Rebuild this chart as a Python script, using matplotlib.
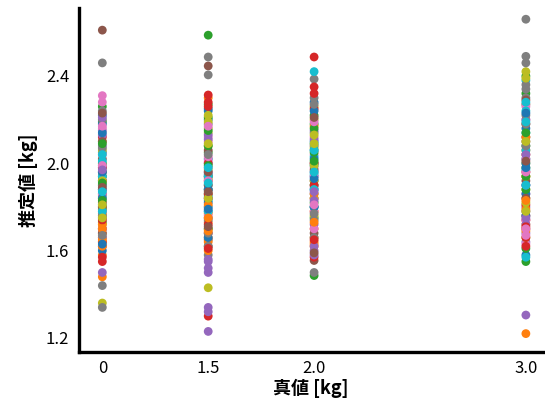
import matplotlib.pyplot as plt

plt.rcParams['font.family'] = ['Noto Sans CJK JP', 'DejaVu Sans']

# true value positions and their tick labels
x_pos = [1.0, 1.5, 2.0, 3.0]
x_labels = ['0', '1.5', '2.0', '3.0']

# estimated values for each true value (colour follows tab10 by order)
est_0 = [2.22, 1.66, 2.26, 1.55, 2.15, 2.61, 2.31, 2.46, 2.10, 1.92,
         2.05, 1.48, 2.19, 1.62, 1.50, 1.75, 2.28, 1.44, 1.36, 1.85,
         1.70, 1.64, 1.88, 2.12, 2.08, 1.96, 1.80, 1.34, 1.76, 1.98,
         1.90, 1.68, 1.73, 1.82, 1.66, 2.02, 1.94, 2.24, 1.84, 1.88,
         2.18, 1.58, 1.79, 1.70, 1.99, 1.86, 2.04, 2.20, 1.72, 1.81,
         1.60, 1.77, 2.00, 1.92, 2.13, 1.68, 1.86, 1.96, 2.06, 2.01,
         1.84, 1.62, 1.94, 1.64, 1.78, 2.10, 1.70, 1.90, 1.80, 1.94,
         1.96, 1.72, 1.83, 1.98, 1.88, 1.80, 2.16, 1.76, 1.92, 1.78,
         2.14, 1.65, 1.91, 1.74, 2.21, 1.89, 1.99, 2.07, 1.81, 1.87,
         1.63, 1.70, 2.09, 1.57, 1.97, 2.23, 2.17, 1.67, 1.75, 2.04]
est_15 = [2.20, 2.30, 2.587, 2.313, 1.34, 2.446, 2.12, 2.487, 1.43, 2.00,
          1.95, 1.70, 2.27, 1.30, 1.32, 1.62, 2.10, 2.405, 2.16, 1.88,
          2.24, 1.66, 2.21, 2.28, 1.23, 1.75, 1.84, 1.58, 2.14, 1.83,
          1.78, 1.60, 2.05, 1.68, 1.52, 1.65, 1.98, 2.18, 2.08, 1.90,
          2.02, 1.73, 1.86, 1.92, 2.13, 1.90, 1.80, 1.74, 1.97, 1.80,
          1.82, 1.64, 1.94, 1.72, 1.50, 2.06, 2.01, 1.88, 1.93, 1.85,
          1.88, 1.77, 1.70, 2.00, 1.96, 1.84, 1.76, 1.94, 2.19, 1.94,
          1.66, 1.81, 1.99, 1.86, 1.56, 1.96, 1.92, 1.68, 1.84, 1.78,
          2.25, 1.69, 2.15, 2.26, 2.11, 1.71, 2.03, 1.62, 2.22, 1.98,
          1.79, 1.75, 2.08, 1.61, 1.55, 1.87, 2.17, 2.04, 2.09, 1.91]
est_20 = [2.28, 1.66, 1.486, 2.487, 1.60, 1.555, 2.04, 2.386, 2.26, 2.42,
          2.10, 1.62, 1.75, 2.35, 2.15, 1.80, 1.98, 1.50, 2.20, 2.03,
          1.94, 1.70, 2.18, 1.57, 1.58, 1.92, 2.12, 1.86, 1.76, 1.95,
          2.02, 2.17, 1.82, 2.25, 1.72, 2.08, 1.89, 2.30, 2.07, 2.09,
          1.88, 1.78, 2.22, 1.84, 1.96, 1.68, 1.78, 1.74, 1.92, 1.80,
          2.06, 1.64, 1.90, 2.00, 2.11, 1.97, 1.70, 2.14, 1.84, 1.99,
          1.80, 1.86, 2.05, 1.90, 1.83, 2.00, 1.94, 1.66, 1.99, 1.88,
          2.24, 1.63, 2.16, 2.32, 1.62, 1.59, 2.19, 2.27, 2.13, 2.06,
          1.93, 1.73, 2.01, 1.65, 1.87, 2.21, 1.81, 1.77, 2.09, 1.96]
est_30 = [1.58, 1.22, 2.40, 1.76, 1.305, 2.10, 2.20, 2.66, 2.42, 2.38,
          2.02, 1.84, 1.55, 1.70, 1.64, 2.27, 1.63, 2.49, 2.00, 1.57,
          2.16, 2.06, 1.98, 1.74, 1.80, 1.92, 2.26, 2.46, 1.66, 2.24,
          1.90, 1.72, 2.32, 1.81, 1.68, 2.12, 1.86, 2.36, 1.88, 2.14,
          1.86, 1.94, 2.08, 2.04, 2.20, 1.78, 1.74, 2.30, 1.94, 2.06,
          2.00, 1.79, 1.88, 1.96, 1.72, 2.18, 2.02, 2.22, 1.82, 1.97,
          1.76, 2.12, 1.94, 1.66, 1.90, 1.84, 1.96, 2.08, 2.10, 1.90,
          2.23, 1.69, 1.61, 1.71, 1.75, 2.29, 1.67, 2.34, 2.39, 2.28,
          1.98, 1.83, 2.14, 1.62, 2.04, 2.01, 1.70, 2.18, 1.78, 2.19]

columns = [est_0, est_15, est_20, est_30]
cmap = plt.get_cmap('tab10')

fig = plt.figure(figsize=(5.45, 4.05), dpi=100)
ax = fig.add_axes([0.145, 0.131, 0.851, 0.849])

for x, vals in zip(x_pos, columns):
    cols = [cmap(i % 10) for i in range(len(vals))]
    ax.scatter([x] * len(vals), vals, c=cols, s=40, linewidths=0, zorder=2)

ax.set_xlim(0.89, 3.08)
ax.set_ylim(1.136, 2.711)
ax.set_xticks(x_pos)
ax.set_xticklabels(x_labels)
ax.set_yticks([1.2, 1.6, 2.0, 2.4])
ax.tick_params(length=0, labelsize=12)
ax.tick_params(axis='y', pad=7)
ax.tick_params(axis='x', pad=6)

for side in ['top', 'right']:
    ax.spines[side].set_visible(False)
for side in ['left', 'bottom']:
    ax.spines[side].set_linewidth(2.4)

ax.set_xlabel('真値 [kg]', fontsize=13, fontweight='bold', labelpad=1)
ax.set_ylabel('推定値 [kg]', fontsize=13, fontweight='bold', labelpad=6)

fig.savefig('out.png', dpi=100)
